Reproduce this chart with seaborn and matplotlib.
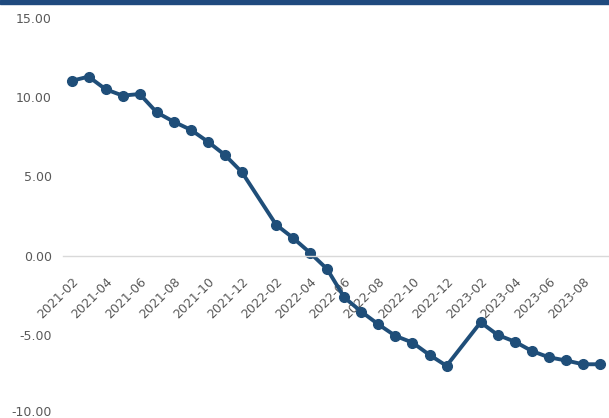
import numpy as np
import pandas as pd
import matplotlib
matplotlib.use('Agg')
import matplotlib.pyplot as plt
import matplotlib.transforms as mtrans
from matplotlib.patches import Rectangle
import seaborn as sns

# monthly series, Jan 2022 and Jan 2023 not reported
months = ['2021-02', '2021-03', '2021-04', '2021-05', '2021-06', '2021-07',
          '2021-08', '2021-09', '2021-10', '2021-11', '2021-12',
          '2022-02', '2022-03', '2022-04', '2022-05', '2022-06', '2022-07',
          '2022-08', '2022-09', '2022-10', '2022-11', '2022-12',
          '2023-02', '2023-03', '2023-04', '2023-05', '2023-06', '2023-07',
          '2023-08', '2023-09']
values = [11.03, 11.30, 10.50, 10.10, 10.20, 9.04, 8.45, 7.94, 7.19, 6.35, 5.26,
          1.95, 1.11, 0.17, -0.86, -2.64, -3.54, -4.34, -5.07, -5.49, -6.27, -6.96,
          -4.21, -5.01, -5.43, -6.02, -6.42, -6.62, -6.86, -6.86]
yticks = [-10, -5, 0, 5, 10, 15]

first = pd.Period(months[0], freq='M')
last = pd.Period(months[-1], freq='M')
n_months = (last - first).n + 1
all_months = [str(first + i) for i in range(n_months)]

data = pd.DataFrame({'month': months, 'value': values})
data['pos'] = [(pd.Period(m, freq='M') - first).n for m in data.month]

sns.set_style('white')
plt.rcParams['font.family'] = ['DejaVu Sans']

fig = plt.figure(figsize=(6.09, 4.18), dpi=100)
ax = fig.add_axes([63 / 609, 4 / 418, 545.5 / 609, 396 / 418])

navy = '#1f4e79'
sns.lineplot(data=data, x='pos', y='value', ax=ax, color=navy, lw=2.8,
             marker='o', markersize=7, markeredgecolor=navy, markeredgewidth=1)

ax.set_xlim(-0.5, n_months - 0.5)
ax.set_ylim(-10, 15)
ax.set_xlabel('')
ax.set_ylabel('')

for s in ['top', 'right', 'left']:
    ax.spines[s].set_visible(False)
ax.spines['bottom'].set_position(('data', 0))
ax.spines['bottom'].set_color('#d9d9d9')
ax.spines['bottom'].set_linewidth(1)

ax.set_yticks(yticks)
ax.set_yticklabels(['%.2f' % v for v in yticks])
ax.tick_params(axis='y', length=0, pad=8, labelsize=9, labelcolor='#595959')
# keep the bottom label inside the picture
up = mtrans.ScaledTranslation(0, 0.03, fig.dpi_scale_trans)
ylab0 = ax.get_yticklabels()[0]
ylab0.set_transform(ylab0.get_transform() + up)

ax.set_xticks(range(0, n_months, 2))
ax.set_xticklabels(all_months[::2])
ax.set_xticks(np.arange(-0.5, n_months, 2), minor=True)
ax.tick_params(axis='x', which='major', length=0, pad=14, labelsize=9,
               labelcolor='#595959')
ax.tick_params(axis='x', which='minor', length=5, color='#d9d9d9', width=1,
               direction='out')
for lab in ax.get_xticklabels():
    lab.set_rotation(45)
    lab.set_ha('right')
    lab.set_rotation_mode('anchor')

ax.grid(False)

# dark band across the top
fig.patches.append(Rectangle((0, 1 - 4 / 418), 1, 4 / 418, transform=fig.transFigure,
                             color='#1f4a7e', zorder=10))

fig.savefig('out.png', dpi=100)
